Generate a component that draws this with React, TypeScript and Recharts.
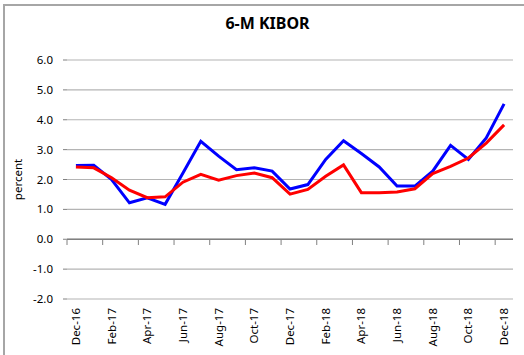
import React from "react";
import { LineChart, Line, XAxis, YAxis, CartesianGrid, ReferenceLine } from "recharts";

const months = [
  "Dec-16", "Jan-17", "Feb-17", "Mar-17", "Apr-17", "May-17", "Jun-17", "Jul-17", "Aug-17", "Sep-17",
  "Oct-17", "Nov-17", "Dec-17", "Jan-18", "Feb-18", "Mar-18", "Apr-18", "May-18", "Jun-18", "Jul-18",
  "Aug-18", "Sep-18", "Oct-18", "Nov-18", "Dec-18",
];
const blueSeries = [
  2.47, 2.48, 2.0, 1.22, 1.39, 1.17, 2.22, 3.28, 2.78, 2.33,
  2.39, 2.28, 1.68, 1.83, 2.67, 3.3, 2.87, 2.42, 1.78, 1.78,
  2.28, 3.14, 2.67, 3.39, 4.53,
];
const redSeries = [
  2.42, 2.39, 2.06, 1.64, 1.39, 1.42, 1.91, 2.17, 1.98, 2.13,
  2.22, 2.06, 1.51, 1.67, 2.11, 2.49, 1.56, 1.56, 1.58, 1.69,
  2.2, 2.44, 2.72, 3.22, 3.83,
];
const yTicks = [-2, -1, 0, 1, 2, 3, 4, 5, 6];

const data = months.map((m, i) => ({ month: m, blue: blueSeries[i], red: redSeries[i] }));

const W = 524;
const H = 355;
const M = { top: 60, right: 11, bottom: 55, left: 17 };
const Y_AXIS_W = 50;
const PLOT_LEFT = M.left + Y_AXIS_W;
const PLOT_W = W - PLOT_LEFT - M.right;
const PLOT_H = H - M.top - M.bottom;
const BAND = PLOT_W / months.length;
const Y_MIN = -2;
const Y_MAX = 6;
const ZERO_Y = M.top + ((Y_MAX - 0) / (Y_MAX - Y_MIN)) * PLOT_H;
const FONT = "'Noto Sans', sans-serif";

const XTick = (props: any) => {
  const { x, payload } = props;
  return (
    <g>
      <line x1={x - BAND / 2} x2={x - BAND / 2} y1={ZERO_Y} y2={ZERO_Y + 5} stroke="#808080" strokeWidth={1} />
      <text
        x={0}
        y={0}
        transform={`translate(${x + 4},${M.top + PLOT_H + 8}) rotate(-90)`}
        textAnchor="end"
        fontSize={11.5}
        fontFamily={FONT}
        fill="#000"
      >
        {payload.value}
      </text>
    </g>
  );
};

export default function App() {
  return (
    <div style={{ position: "absolute", left: 0, top: 0, width: W, height: H, background: "#fff", overflow: "hidden" }}>
      <div
        style={{
          position: "absolute",
          left: 3,
          top: 4,
          width: W,
          height: H,
          borderTop: "2px solid #a6a6a6",
          borderLeft: "2px solid #a6a6a6",
        }}
      />
      <div
        style={{
          position: "absolute",
          left: 0,
          top: 12,
          width: 535,
          textAlign: "center",
          fontFamily: FONT,
          fontWeight: 700,
          fontSize: 16,
          color: "#000",
        }}
      >
        6-M KIBOR
      </div>
      <div style={{ position: "absolute", left: 0, top: 0 }}>
        <LineChart width={W} height={H} data={data} margin={M}>
          <CartesianGrid horizontal vertical={false} stroke="#b4b4b4" strokeWidth={1.2} />
          <XAxis
            dataKey="month"
            interval={1}
            axisLine={false}
            tickLine={false}
            tick={<XTick />}
            height={1}
            padding={{ left: BAND / 2, right: BAND / 2 }}
          />
          <YAxis
            domain={[Y_MIN, Y_MAX]}
            ticks={yTicks}
            width={Y_AXIS_W}
            axisLine={false}
            tickLine={{ stroke: "#808080" }}
            tickSize={4}
            tickMargin={10}
            tickFormatter={(v: number) => v.toFixed(1)}
            tick={{ fontSize: 11.5, fontFamily: FONT, fill: "#000" }}
            label={{
              value: "percent",
              angle: -90,
              position: "insideLeft",
              offset: 1,
              style: { fontSize: 11.5, fontFamily: FONT, fill: "#000", textAnchor: "middle" },
            }}
          />
          <ReferenceLine y={0} stroke="#808080" strokeWidth={1.5} />
          <Line dataKey="blue" stroke="#0000ff" strokeWidth={3} dot={false} isAnimationActive={false} />
          <Line dataKey="red" stroke="#ff0000" strokeWidth={3} dot={false} isAnimationActive={false} />
        </LineChart>
      </div>
    </div>
  );
}
